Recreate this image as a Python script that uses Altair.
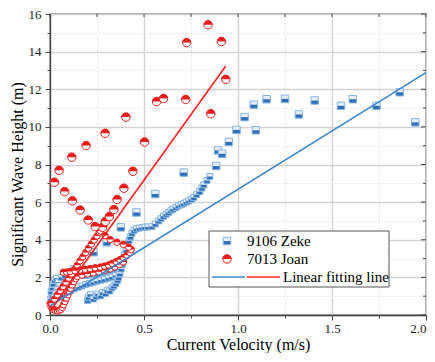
import altair as alt
import pandas as pd

# ---------------- data ----------------
# 9106 Zeke: dense track near the origin, then sparse points
zeke_track_x = [0.005, 0.012, 0.006, 0.012, 0.018, 0.025, 0.035, 0.045, 0.05, 0.038, 0.03, 0.022,
                0.06, 0.08, 0.10, 0.124, 0.14, 0.16, 0.18, 0.20, 0.22, 0.24, 0.26, 0.28, 0.30, 0.32, 0.34,
                0.05, 0.07, 0.09, 0.11, 0.13, 0.15, 0.17, 0.19, 0.21, 0.23, 0.25, 0.27, 0.29, 0.31, 0.33, 0.35,
                0.20, 0.205, 0.215, 0.23, 0.245, 0.255, 0.27, 0.28, 0.295, 0.305, 0.318, 0.33, 0.34, 0.35, 0.36, 0.365,
                0.372, 0.378, 0.384, 0.39, 0.397, 0.405, 0.413, 0.42, 0.427, 0.436, 0.447, 0.46, 0.475, 0.49,
                0.505, 0.52, 0.542, 0.56, 0.578, 0.59, 0.604, 0.618, 0.631, 0.643, 0.654, 0.67, 0.684, 0.698,
                0.711, 0.725, 0.738, 0.752, 0.765, 0.78, 0.796, 0.808, 0.818, 0.835, 0.85]
zeke_track_y = [0.85, 1.05, 1.25, 1.45, 1.65, 1.85, 1.95, 1.75, 1.55, 1.35, 1.15, 0.95,
                2.0, 2.08, 2.2, 2.47, 2.3, 2.15, 2.1, 2.12, 2.16, 2.2, 2.22, 2.25, 2.3, 2.36, 2.45,
                1.0, 1.08, 1.18, 1.3, 1.4, 1.48, 1.55, 1.62, 1.68, 1.74, 1.8, 1.85, 1.9, 1.96, 2.02, 2.1,
                0.78, 0.95, 1.1, 0.85, 0.98, 1.12, 1.02, 1.2, 1.15, 1.32, 1.28, 1.45, 1.55, 1.68, 1.85, 2.0,
                2.2, 2.45, 2.7, 2.95, 3.2, 3.45, 3.7, 3.95, 4.15, 4.35, 4.5, 4.58, 4.62, 4.65,
                4.67, 4.68, 4.70, 4.84, 5.0, 5.12, 5.25, 5.36, 5.45, 5.55, 5.63, 5.72, 5.81, 5.87,
                5.93, 6.0, 6.07, 6.15, 6.25, 6.4, 6.56, 6.75, 6.92, 7.15, 7.36]
zeke_sparse_x = [0.231, 0.302, 0.377, 0.46, 0.56, 0.711, 0.884, 0.894, 0.915, 0.951, 0.992, 1.035, 1.084,
                 1.095, 1.152, 1.25, 1.324, 1.408, 1.548, 1.611, 1.737, 1.86, 1.943]
zeke_sparse_y = [3.34, 3.87, 4.66, 5.45, 6.43, 7.57, 7.92, 8.75, 8.57, 9.2, 9.84, 10.52, 11.18,
                 9.82, 11.47, 11.49, 10.66, 11.40, 11.12, 11.47, 11.12, 11.84, 10.24]

# 7013 Joan: dense track near the origin, then sparse outer loop
joan_track_x = [0.0, 0.005, 0.012, 0.02, 0.03, 0.04, 0.05, 0.058,
                0.065, 0.072, 0.08, 0.088, 0.095, 0.103, 0.11, 0.118, 0.127, 0.136, 0.146,
                0.17, 0.2, 0.23, 0.26, 0.29, 0.32, 0.345, 0.37, 0.39,
                0.01, 0.025, 0.04, 0.055, 0.07, 0.085, 0.1, 0.115, 0.13, 0.145, 0.16, 0.175, 0.19, 0.205,
                0.22, 0.235, 0.25, 0.262, 0.275, 0.288,
                0.071, 0.088, 0.107, 0.133, 0.16, 0.187, 0.213, 0.24, 0.267, 0.29, 0.311, 0.33, 0.352,
                0.372, 0.391, 0.41, 0.426, 0.432, 0.418, 0.391, 0.356, 0.32, 0.293, 0.268]
joan_track_y = [0.6, 0.45, 0.35, 0.28, 0.25, 0.22, 0.25, 0.3,
                0.4, 0.55, 0.72, 0.9, 1.08, 1.25, 1.42, 1.6, 1.78, 1.93, 2.05,
                2.12, 2.18, 2.24, 2.3, 2.37, 2.45, 2.55, 2.68, 2.82,
                0.62, 0.85, 1.08, 1.3, 1.52, 1.74, 1.96, 2.18, 2.42, 2.65, 2.88, 3.1, 3.32, 3.55,
                3.77, 3.99, 4.2, 4.4, 4.6, 4.8,
                2.27, 2.29, 2.31, 2.35, 2.39, 2.43, 2.47, 2.51, 2.55, 2.6, 2.66, 2.74, 2.84,
                2.94, 3.05, 3.17, 3.32, 3.48, 3.61, 3.75, 3.87, 4.01, 4.22, 4.47]
joan_sparse_x = [0.279, 0.295, 0.316, 0.34, 0.357, 0.393, 0.441, 0.24, 0.203, 0.16, 0.119, 0.078,
                 0.023, 0.048, 0.116, 0.192, 0.293, 0.404, 0.503, 0.567, 0.604, 0.722, 0.727, 0.841,
                 0.912, 0.935, 0.855]
joan_sparse_y = [4.66, 4.98, 5.24, 5.61, 6.14, 6.74, 7.64, 4.70, 5.05, 5.58, 6.07, 6.56,
                 7.06, 7.69, 8.39, 9.01, 9.66, 10.52, 9.20, 11.35, 11.51, 11.46, 14.48, 15.43,
                 14.54, 12.53, 10.70]

fit_zeke_x = [0.0, 2.0]
fit_zeke_y = [0.48, 12.88]
fit_joan_x = [0.0, 0.935]
fit_joan_y = [0.2, 13.24]

x_ticks = [0.0, 0.25, 0.5, 0.75, 1.0, 1.25, 1.5, 1.75, 2.0]
y_ticks = list(range(0, 17))
legend_labels = ["9106 Zeke", "7013 Joan", "Linear fitting line"]

# ---------------- styling ----------------
SERIF = "'Liberation Serif', 'Times New Roman', Times, serif"
AX = "#444444"
BLUE_LINE = "#3f86cc"
RED_LINE = "#ff2323"
SQ_HALF = "M-1,0L1,0L1,1L-1,1Z"
CI_HALF = "M-1,0A1,1,0,0,1,1,0Z"

PARTS = ["z_bg", "z_half", "z_edge", "j_bg", "j_half", "j_edge"]
SHAPES = ["square", SQ_HALF, "square", "circle", CI_HALF, "circle"]
FILLS = ["#e3eef9", "#2f6fb8", "transparent", "#ffffff", "#e81e1e", "transparent"]
STROKES = ["transparent", "transparent", "#86b4e0", "transparent", "transparent", "#e81e1e"]

W, H = 376, 301

def marker_rows(xs, ys, prefix):
    rows = []
    for a, b in zip(xs, ys):
        for p in ("bg", "half", "edge"):
            rows.append({"x": a, "y": b, "part": prefix + "_" + p})
    return pd.DataFrame(rows)

x_enc_scale = alt.Scale(domain=[0, 2], nice=False, zero=False)
y_enc_scale = alt.Scale(domain=[0, 16], nice=False, zero=False)

minor_x = "round(datum.value*4) % 2 == 1"
minor_y = "round(datum.value) % 2 == 1"

x_axis = alt.Axis(
    values=x_ticks,
    labelExpr="(round(datum.value*4) % 2 == 0) ? format(datum.value, '.1f') : ''",
    labelOverlap=False, labelFlush=False,
    labelAlign={"condition": {"test": "datum.value >= 2", "value": "right"}, "value": "center"},
    tickSize={"condition": {"test": minor_x, "value": 3}, "value": 5},
    gridDash={"condition": {"test": minor_x, "value": [2, 2]}, "value": []},
    gridColor={"condition": {"test": minor_x, "value": "#e4e4e4"}, "value": "#d2d2d2"},
    gridWidth={"condition": {"test": minor_x, "value": 1}, "value": 1.4},
    labelPadding=2, titlePadding=1,
)
y_axis = alt.Axis(
    values=y_ticks,
    labelExpr="(round(datum.value) % 2 == 0) ? format(datum.value, 'd') : ''",
    labelOverlap=False, labelFlush=False,
    tickSize={"condition": {"test": minor_y, "value": 3}, "value": 5},
    gridDash={"condition": {"test": minor_y, "value": [2, 2]}, "value": []},
    gridColor={"condition": {"test": minor_y, "value": "#e4e4e4"}, "value": "#d2d2d2"},
    gridWidth={"condition": {"test": minor_y, "value": 1}, "value": 1.4},
    labelPadding=4, titlePadding=3, titleY=160,
)

X = alt.X("x:Q", scale=x_enc_scale, axis=x_axis, title="Current Velocity (m/s)")
Y = alt.Y("y:Q", scale=y_enc_scale, axis=y_axis, title="Significant Wave Height (m)")

def part_channels():
    return dict(
        shape=alt.Shape("part:N", scale=alt.Scale(domain=PARTS, range=SHAPES), legend=None),
        fill=alt.Fill("part:N", scale=alt.Scale(domain=PARTS, range=FILLS), legend=None),
        stroke=alt.Stroke("part:N", scale=alt.Scale(domain=PARTS, range=STROKES), legend=None),
    )

def series_layer(xs, ys, prefix, size):
    df = marker_rows(xs, ys, prefix)
    return alt.Chart(df).mark_point(filled=False, size=size, strokeWidth=1, opacity=1).encode(
        x=X, y=Y, **part_channels())

zeke_t = series_layer(zeke_track_x, zeke_track_y, "z", 36)
zeke_s = series_layer(zeke_sparse_x, zeke_sparse_y, "z", 56)
joan_t = series_layer(joan_track_x, joan_track_y, "j", 42)
joan_s = series_layer(joan_sparse_x, joan_sparse_y, "j", 72)

fit_z = alt.Chart(pd.DataFrame({"x": fit_zeke_x, "y": fit_zeke_y})).mark_line(
    color=BLUE_LINE, strokeWidth=1.6).encode(x=X, y=Y)
fit_j = alt.Chart(pd.DataFrame({"x": fit_joan_x, "y": fit_joan_y})).mark_line(
    color=RED_LINE, strokeWidth=1.6).encode(x=X, y=Y)

# mirrored inner ticks on top and right
top_ticks = alt.Chart(pd.DataFrame({"x": x_ticks})).mark_rule(color=AX, strokeWidth=1).encode(
    x=X, y=alt.value(0), y2=alt.value(3))
ydf = pd.DataFrame({"y": y_ticks})
right_major = alt.Chart(ydf).transform_filter("datum.y % 2 == 0").mark_rule(color=AX, strokeWidth=1).encode(
    y=Y, x=alt.value(W), x2=alt.value(W - 5))
right_minor = alt.Chart(ydf).transform_filter("datum.y % 2 == 1").mark_rule(color=AX, strokeWidth=1).encode(
    y=Y, x=alt.value(W), x2=alt.value(W - 3))

# legend
LX0, LX1, LY0, LY1 = 159, 339, 217, 273
leg_box = alt.Chart(pd.DataFrame({"label": legend_labels[:1]})).mark_rect(
    fill="white", stroke="#555555", strokeWidth=1).encode(
    x=alt.value(LX0), x2=alt.value(LX1), y=alt.value(LY0), y2=alt.value(LY1))

def leg_marker(prefix, size, py):
    df = pd.DataFrame({"part": [prefix + "_bg", prefix + "_half", prefix + "_edge"]})
    return alt.Chart(df).mark_point(filled=False, size=size, strokeWidth=1, opacity=1).encode(
        x=alt.value(177), y=alt.value(py), **part_channels())

leg_m1 = leg_marker("z", 56, 227)
leg_m2 = leg_marker("j", 72, 245)

def leg_text(label, px, py):
    return alt.Chart(pd.DataFrame({"label": [label]})).mark_text(
        align="left", baseline="middle", font=SERIF, fontSize=15, color="black").encode(
        x=alt.value(px), y=alt.value(py), text="label:N")

leg_t1 = leg_text(legend_labels[0], 197, 227)
leg_t2 = leg_text(legend_labels[1], 197, 245)
leg_t3 = leg_text(legend_labels[2], 233, 263)

leg_l1 = alt.Chart(pd.DataFrame({"label": legend_labels[2:]})).mark_rule(
    color=BLUE_LINE, strokeWidth=1.6).encode(x=alt.value(162), x2=alt.value(195), y=alt.value(263))
leg_l2 = alt.Chart(pd.DataFrame({"label": legend_labels[2:]})).mark_rule(
    color=RED_LINE, strokeWidth=1.6).encode(x=alt.value(197), x2=alt.value(230), y=alt.value(263))

chart = alt.layer(
    zeke_t, zeke_s, joan_t, joan_s, fit_z, fit_j, top_ticks, right_major, right_minor,
    leg_box, leg_m1, leg_m2, leg_t1, leg_t2, leg_t3, leg_l1, leg_l2
).properties(
    width=W, height=H,
    autosize=alt.AutoSizeParams(type="none"),
    padding={"left": 42, "top": 6, "right": 1, "bottom": 38},
).configure_view(
    stroke=AX, strokeWidth=1.3
).configure_axis(
    labelFont=SERIF, labelFontSize=13, labelColor="#222222", labelOverlap=False,
    titleFont=SERIF, titleFontSize=16, titleFontWeight="normal", titleColor="black",
    domainColor=AX, domainWidth=1.3, tickColor=AX, tickWidth=1,
)

chart.save("out.html", embed_options={"renderer": "svg", "actions": False})
